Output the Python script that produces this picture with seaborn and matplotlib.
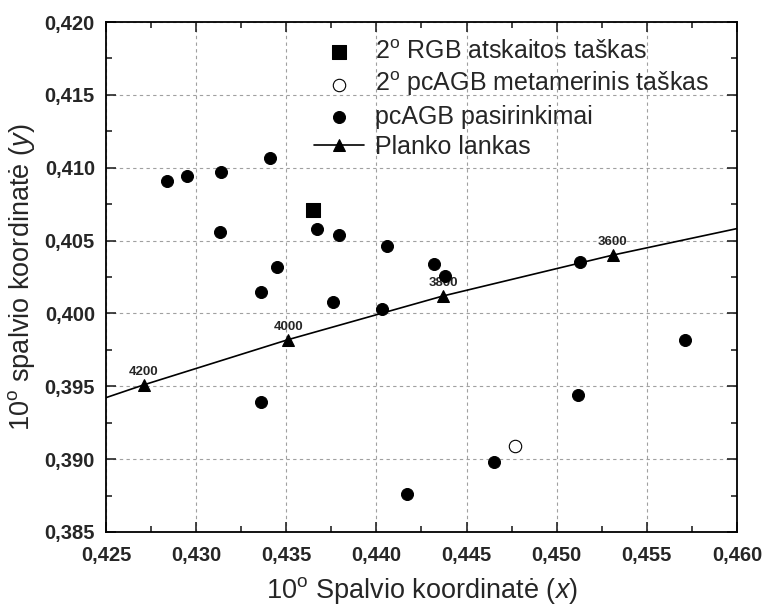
import pandas as pd
import matplotlib.pyplot as plt
import seaborn as sns
from matplotlib.ticker import MultipleLocator, FuncFormatter

# ======= datos =======
rgb_x = [0.4365]
rgb_y = [0.4071]

meta_x = [0.4477]
meta_y = [0.3909]

pcagb_x = [0.4284, 0.4295, 0.4314, 0.4341, 0.4313, 0.4367, 0.4379, 0.4406, 0.4432,
           0.4438, 0.4345, 0.4336, 0.4376, 0.4403, 0.4336, 0.4513, 0.4571, 0.4512,
           0.4417, 0.4465]
pcagb_y = [0.4091, 0.4094, 0.4097, 0.4107, 0.4056, 0.4058, 0.4054, 0.4046, 0.4034,
           0.4026, 0.4032, 0.4015, 0.4008, 0.4003, 0.3939, 0.4035, 0.3982, 0.3944,
           0.3876, 0.3898]

# Planko lankas (taskai uz asiu ribu tik linijai)
planck_t = [4400, 4200, 4000, 3800, 3600, 3400]
planck_x = [0.4197, 0.4271, 0.4351, 0.4437, 0.4531, 0.4637]
planck_y = [0.3920, 0.3951, 0.3982, 0.4012, 0.4040, 0.4068]

df_planck = pd.DataFrame({'x': planck_x, 'y': planck_y, 't': planck_t})

sns.set_style("ticks")
plt.rcParams['font.family'] = ['Liberation Sans', 'DejaVu Sans']
plt.rcParams['mathtext.fontset'] = 'custom'
plt.rcParams['mathtext.rm'] = 'Liberation Sans'
plt.rcParams['mathtext.it'] = 'Liberation Sans:italic'

fig = plt.figure(figsize=(7.66, 6.05), dpi=100)
ax = fig.add_axes([0.1384, 0.1207, 0.8237, 0.8429])

ax.grid(True, which='major', color='#a0a0a0', linestyle=(0, (3, 3)), linewidth=0.8)
ax.set_axisbelow(True)

sns.lineplot(data=df_planck, x='x', y='y', sort=False, color='black', lw=1.2,
             marker='^', markersize=9, markeredgecolor='black', ax=ax,
             label='Planko lankas')
sns.scatterplot(x=rgb_x, y=rgb_y, marker='s', s=90, color='black', edgecolor='black',
                ax=ax, label='2$^{\\mathrm{o}}$ RGB atskaitos taškas', zorder=4)
sns.scatterplot(x=meta_x, y=meta_y, marker='o', s=80, facecolor='white',
                edgecolor='black', linewidth=0.8, ax=ax,
                label='2$^{\\mathrm{o}}$ pcAGB metamerinis taškas', zorder=4)
sns.scatterplot(x=pcagb_x, y=pcagb_y, marker='o', s=75, color='black', edgecolor='black',
                ax=ax, label='pcAGB pasirinkimai', zorder=4)

# temperaturu uzrasai
for tx, ty, t in zip(planck_x, planck_y, planck_t):
    if 0.425 < tx < 0.460:
        ax.annotate(str(t), (tx, ty), xytext=(0, 5), textcoords='offset points',
                    ha='center', va='bottom', fontsize=9.5, fontweight='bold')

ax.set_xlim(0.425, 0.460)
ax.set_ylim(0.385, 0.420)
ax.xaxis.set_major_locator(MultipleLocator(0.005))
ax.xaxis.set_minor_locator(MultipleLocator(0.0025))
ax.yaxis.set_major_locator(MultipleLocator(0.005))
ax.yaxis.set_minor_locator(MultipleLocator(0.0025))
fmt = FuncFormatter(lambda v, p: f"{v:.3f}".replace('.', ','))
ax.xaxis.set_major_formatter(fmt)
ax.yaxis.set_major_formatter(fmt)
ax.tick_params(which='both', direction='in', top=True, right=True, width=1.2)
ax.tick_params(which='major', length=7, labelsize=14.5)
ax.tick_params(axis='x', which='major', pad=10)
ax.tick_params(axis='y', which='major', pad=8)
ax.tick_params(which='minor', length=4)
for lab in ax.get_xticklabels() + ax.get_yticklabels():
    lab.set_fontweight('bold')
for sp in ax.spines.values():
    sp.set_linewidth(1.3)
    sp.set_color('black')

ax.set_xlabel('10$^{\\mathrm{o}}$ Spalvio koordinatė $\\mathit{(x)}$', fontsize=19.5, labelpad=7)
ax.set_ylabel('10$^{\\mathrm{o}}$ spalvio koordinatė $\\mathit{(y)}$', fontsize=19.5, labelpad=5)

handles, labels = ax.get_legend_handles_labels()
order = [1, 2, 3, 0]
ax.legend([handles[i] for i in order], [labels[i] for i in order],
          loc='upper left', bbox_to_anchor=(0.31, 0.99), frameon=False,
          fontsize=18, handlelength=2.0, handletextpad=0.45, labelspacing=0.25,
          borderpad=0)

plt.savefig('out.png', dpi=100)
